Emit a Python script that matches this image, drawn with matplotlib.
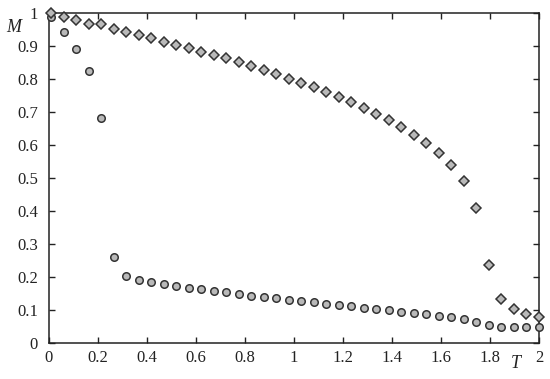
import matplotlib.pyplot as plt
import numpy as np

# temperature grid, 40 points from 0.01 to 2
T = np.linspace(0.01, 2.0, 40)

m_diamond = [1.000, 0.989, 0.977, 0.966, 0.965, 0.952, 0.942, 0.933, 0.923, 0.913,
             0.904, 0.894, 0.883, 0.873, 0.863, 0.851, 0.839, 0.827, 0.815, 0.801,
             0.788, 0.775, 0.761, 0.745, 0.729, 0.713, 0.694, 0.676, 0.655, 0.630,
             0.605, 0.575, 0.539, 0.491, 0.410, 0.237, 0.134, 0.104, 0.088, 0.080]

m_circle = [0.987, 0.942, 0.890, 0.823, 0.681, 0.260, 0.203, 0.192, 0.186, 0.178,
            0.173, 0.168, 0.163, 0.158, 0.153, 0.148, 0.143, 0.139, 0.135, 0.131,
            0.128, 0.123, 0.118, 0.115, 0.111, 0.107, 0.103, 0.100, 0.095, 0.091,
            0.087, 0.083, 0.078, 0.073, 0.065, 0.053, 0.048, 0.048, 0.048, 0.048]

x_ticks = [0, 0.2, 0.4, 0.6, 0.8, 1, 1.2, 1.4, 1.6, 1.8, 2]
x_labels = ['0', '0.2', '0.4', '0.6', '0.8', '1', '1.2', '1.4', '1.6', '1.8', '2']
y_ticks = [0, 0.1, 0.2, 0.3, 0.4, 0.5, 0.6, 0.7, 0.8, 0.9, 1]
y_labels = ['0', '0.1', '0.2', '0.3', '0.4', '0.5', '0.6', '0.7', '0.8', '0.9', '1']

plt.rcParams['font.family'] = ['Liberation Serif', 'DejaVu Serif']

fig = plt.figure(figsize=(5.5, 3.79), dpi=100)
ax = fig.add_axes([0.089, 0.095, 0.891, 0.871])

fill = '#b9b9b9'
edge = '#333333'
ax.plot(T, m_circle, linestyle='none', marker='o', markersize=5.4,
        markerfacecolor=fill, markeredgecolor=edge, markeredgewidth=1.1, clip_on=False, zorder=3)
ax.plot(T, m_diamond, linestyle='none', marker='D', markersize=5.2,
        markerfacecolor=fill, markeredgecolor=edge, markeredgewidth=1.1, clip_on=False, zorder=4)

ax.set_xlim(0, 2)
ax.set_ylim(0, 1)
ax.set_xticks(x_ticks)
ax.set_xticklabels(x_labels)
ax.set_yticks(y_ticks)
ax.set_yticklabels(y_labels)
ax.tick_params(direction='in', length=4, width=1, top=True, right=True,
               labelsize=12, colors='#222222')
ax.tick_params(axis='y', pad=8)
ax.tick_params(axis='x', pad=5)
for s in ax.spines.values():
    s.set_linewidth(1.1)
    s.set_color('#222222')

fig.text(14 / 550, 1 - 27 / 379, 'M', fontsize=13, style='italic', ha='center', va='center', color='#222222')
fig.text(516 / 550, 1 - 364 / 379, 'T', fontsize=13, style='italic', ha='center', va='center', color='#222222')

fig.savefig('out.png', dpi=100)
